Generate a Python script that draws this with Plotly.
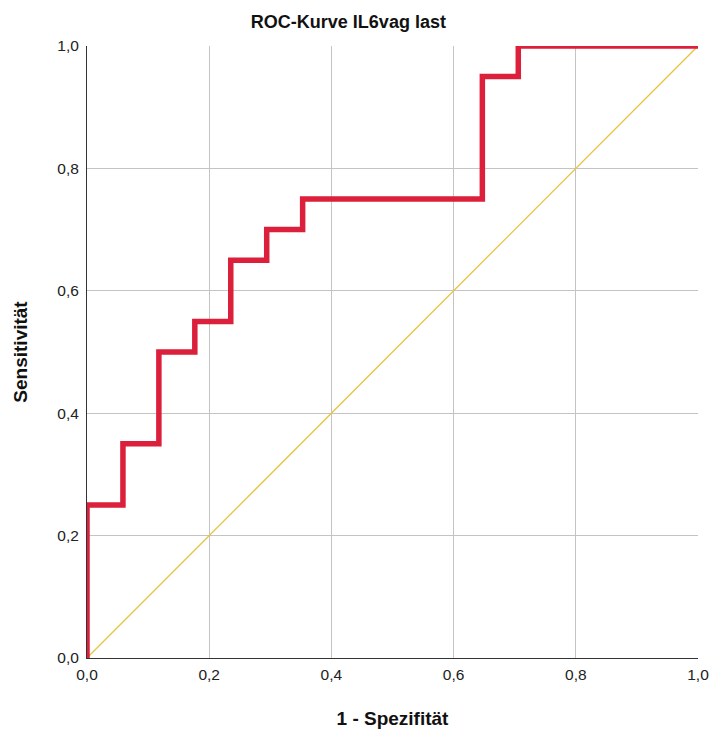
import plotly.graph_objects as go

# ROC step curve (1 - specificity, sensitivity)
fpr = [0, 0, 1/17, 1/17, 2/17, 2/17, 3/17, 3/17, 4/17, 4/17, 5/17, 5/17,
       6/17, 6/17, 11/17, 11/17, 12/17, 12/17, 1.0]
tpr = [0, 0.25, 0.25, 0.35, 0.35, 0.50, 0.50, 0.55, 0.55, 0.65, 0.65, 0.70,
       0.70, 0.75, 0.75, 0.95, 0.95, 1.0, 1.0]
ref_x = [0, 1]
ref_y = [0, 1]
tick_vals = [0, 0.2, 0.4, 0.6, 0.8, 1.0]
tick_text = ["0,0", "0,2", "0,4", "0,6", "0,8", "1,0"]

FONT = "Liberation Sans, Arial, sans-serif"

fig = go.Figure()
fig.add_trace(go.Scatter(x=ref_x, y=ref_y, mode="lines",
                         line=dict(color="#E9C23F", width=1.3),
                         hoverinfo="skip", showlegend=False, cliponaxis=False))
fig.add_trace(go.Scatter(x=fpr, y=tpr, mode="lines",
                         line=dict(color="#DC1F3A", width=5.5, shape="linear"),
                         showlegend=False, cliponaxis=False))

axis_common = dict(
    range=[0, 1], tickvals=tick_vals, ticktext=tick_text,
    showgrid=True, gridcolor="#C4C4C4", gridwidth=1.2,
    zeroline=False, showline=True, linecolor="#333333", linewidth=1,
    ticks="", tickfont=dict(family=FONT, size=15.5, color="#222222"),
    fixedrange=True, automargin=False,
)

fig.update_layout(
    width=711, height=733,
    margin=dict(l=87, r=13, t=46, b=75),
    paper_bgcolor="white", plot_bgcolor="white",
    font=dict(family=FONT),
    title=dict(text="<b>ROC-Kurve IL6vag last</b>", x=0.49, xanchor="center",
               y=0.97, yanchor="middle",
               font=dict(family=FONT, size=18, color="#111111")),
    xaxis=dict(**axis_common, ticklabelstandoff=2,
               title=dict(text="<b>1 - Spezifität</b>", standoff=30,
                          font=dict(family=FONT, size=19, color="#111111"))),
    yaxis=dict(**axis_common, ticklabelstandoff=4,
               title=dict(text="<b>Sensitivität</b>", standoff=24,
                          font=dict(family=FONT, size=19, color="#111111"))),
)

fig.write_html("out.html")
